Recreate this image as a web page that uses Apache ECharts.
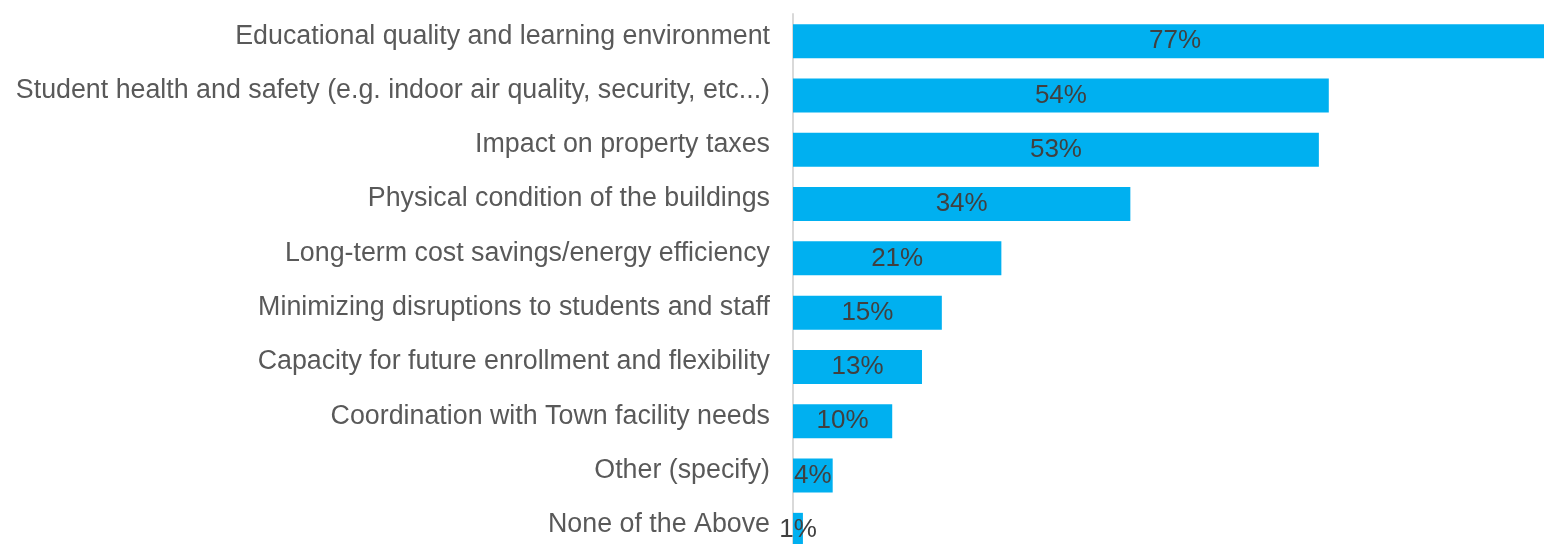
<!DOCTYPE html>
<html>
<head>
<meta charset="utf-8">
<script src="https://cdn.jsdelivr.net/npm/echarts@6/dist/echarts.min.js"></script>
<style>
html, body { margin: 0; padding: 0; background: #fff; }
#chart { width: 1544px; height: 544px; }
</style>
</head>
<body>
<div id="chart"></div>
<script>
var categories = [
    "Educational quality and learning environment",
    "Student health and safety (e.g. indoor air quality, security, etc...)",
    "Impact on property taxes",
    "Physical condition of the buildings",
    "Long-term cost savings/energy efficiency",
    "Minimizing disruptions to students and staff",
    "Capacity for future enrollment and flexibility",
    "Coordination with Town facility needs",
    "Other (specify)",
    "None of the Above"
];
var values = [77, 54, 53, 34, 21, 15, 13, 10, 4, 1];

var myChart = echarts.init(document.getElementById("chart"));
var option = {
    animation: false,
    grid: {
        left: 793,
        top: 14,
        width: 764,
        height: 543,
        outerBoundsMode: 'none'
    },
    xAxis: {
        type: 'value',
        min: 0,
        max: 77,
        show: false
    },
    yAxis: {
        type: 'category',
        inverse: true,
        data: categories,
        axisLine: { show: true, lineStyle: { color: '#d9d9d9', width: 2 } },
        axisTick: { show: false },
        axisLabel: {
            fontFamily: 'Liberation Sans, Arial, sans-serif',
            fontSize: 26.8,
            color: '#595959',
            margin: 23,
            verticalAlign: 'bottom',
            lineHeight: 10
        }
    },
    series: [
        {
            type: 'bar',
            data: values,
            barWidth: 34,
            itemStyle: { color: '#00B0F0' },
            label: {
                show: true,
                position: 'inside',
                formatter: '{c}%',
                fontFamily: 'Liberation Sans, Arial, sans-serif',
                fontSize: 26,
                color: '#404040'
            }
        }
    ]
};
myChart.setOption(option);
</script>
</body>
</html>
